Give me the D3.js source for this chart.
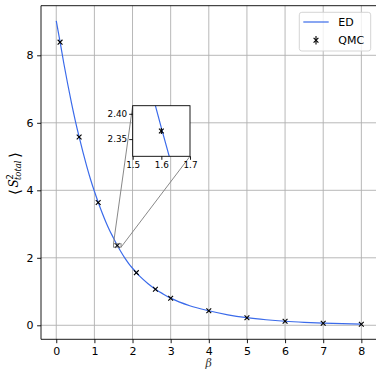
<!DOCTYPE html>
<html><head><meta charset="utf-8">
<script src="https://cdn.jsdelivr.net/npm/d3@7"></script>
<style>body{margin:0;background:#fff}svg{display:block;font-family:"DejaVu Sans",sans-serif}</style>
</head><body><svg id="c" width="376" height="372"></svg>
<script>
const edBeta = [0,0.1,0.2,0.3,0.4,0.5,0.6,0.7,0.8,0.9,1.0,1.1,1.2,1.3,1.4,1.5,1.55,1.6,1.65,1.7,1.8,1.9,2.0,2.2,2.4,2.6,2.8,3.0,3.5,4.0,4.5,5.0,5.5,6.0,6.5,7.0,7.5,8.0];
const edValues = [9.02,8.40,7.75,7.15,6.58,6.06,5.58,5.13,4.71,4.32,3.97,3.645,3.34,3.06,2.81,2.589,2.478,2.372,2.270,2.173,1.99,1.83,1.69,1.44,1.24,1.07,0.93,0.805,0.58,0.43,0.31,0.225,0.165,0.12,0.088,0.064,0.047,0.036];
const qmcBeta = [0.1,0.6,1.1,1.6,2.1,2.6,3,4,5,6,7,8];
const qmcValues = [8.39,5.58,3.64,2.366,1.56,1.07,0.80,0.43,0.225,0.12,0.06,0.03];
const qmcErr = [0.02,0.015,0.01,0.006,0.006,0.005,0.004,0.003,0.002,0.002,0.001,0.001];
const xTicks = [0,1,2,3,4,5,6,7,8];
const yTicks = [0,2,4,6,8];
const insetXTicks = [1.5,1.6,1.7];
const insetYTicks = [2.35,2.40];
const insetXDomain = [1.5,1.7];
const insetYDomain = [2.316,2.416];

const svg = d3.select("#c");
const L=41, R=376.6, T=5.7, B=339.3;
const x = d3.scaleLinear().domain([-0.4,8.4]).range([L,R]);
const y = d3.scaleLinear().domain([-0.415,9.47]).range([B,T]);
const blue = "#3b6bea";

svg.append("defs").append("clipPath").attr("id","mainclip").append("rect")
  .attr("x",L).attr("y",T).attr("width",R-L).attr("height",B-T);

// grid
const g = svg.append("g");
g.selectAll(".gx").data(xTicks).join("line").attr("x1",d=>x(d)).attr("x2",d=>x(d)).attr("y1",T).attr("y2",B)
  .attr("stroke","#b0b0b0").attr("stroke-width",0.9);
g.selectAll(".gy").data(yTicks).join("line").attr("y1",d=>y(d)).attr("y2",d=>y(d)).attr("x1",L).attr("x2",R)
  .attr("stroke","#b0b0b0").attr("stroke-width",0.9);

const plot = svg.append("g").attr("clip-path","url(#mainclip)");
const line = d3.line().x((d,i)=>x(edBeta[i])).y(d=>y(d)).curve(d3.curveMonotoneX);
plot.append("path").attr("d",line(edValues)).attr("fill","none").attr("stroke",blue).attr("stroke-width",1.2);

function xMark(gr, cx, cy, s){
  gr.append("path").attr("d",`M${cx-s},${cy-s}L${cx+s},${cy+s}M${cx-s},${cy+s}L${cx+s},${cy-s}`)
   .attr("stroke","#000").attr("stroke-width",1.1).attr("fill","none");
}
qmcBeta.forEach((b,i)=>{
  plot.append("line").attr("x1",x(b)).attr("x2",x(b)).attr("y1",y(qmcValues[i]-qmcErr[i])).attr("y2",y(qmcValues[i]+qmcErr[i]))
    .attr("stroke","#000").attr("stroke-width",1.1);
  xMark(plot, x(b), y(qmcValues[i]), 2.4);
});

// inset indicator
const ix0=x(insetXDomain[0]), ix1=x(insetXDomain[1]), iy0=y(insetYDomain[1]), iy1=y(insetYDomain[0]);
svg.append("rect").attr("x",ix0).attr("y",iy0).attr("width",ix1-ix0).attr("height",iy1-iy0)
  .attr("fill","none").attr("stroke","#7a7a7a").attr("stroke-width",0.9);

// inset geometry
const IL=132.7, IR=190, IT=105.7, IB=156.3;
svg.append("line").attr("x1",ix0).attr("y1",iy0).attr("x2",IL).attr("y2",IT).attr("stroke","#7a7a7a").attr("stroke-width",0.9);
svg.append("line").attr("x1",ix1).attr("y1",iy1).attr("x2",IR).attr("y2",IB).attr("stroke","#7a7a7a").attr("stroke-width",0.9);

// axes spines
svg.append("line").attr("x1",L).attr("x2",L).attr("y1",T).attr("y2",B).attr("stroke","#000").attr("stroke-width",0.9);
svg.append("line").attr("x1",L).attr("x2",R).attr("y1",B).attr("y2",B).attr("stroke","#000").attr("stroke-width",0.9);
svg.append("line").attr("x1",L).attr("x2",R).attr("y1",T).attr("y2",T).attr("stroke","#000").attr("stroke-width",0.9);
svg.append("line").attr("x1",R).attr("x2",R).attr("y1",T).attr("y2",B).attr("stroke","#000").attr("stroke-width",0.9);

const xAxis = d3.axisBottom(x).tickValues(xTicks).tickSize(3.9).tickPadding(3.5).tickFormat(d3.format("d"));
const gxA = svg.append("g").attr("transform",`translate(0,${B})`).call(xAxis);
const yAxis = d3.axisLeft(y).tickValues(yTicks).tickSize(3.9).tickPadding(3.5).tickFormat(d3.format("d"));
const gyA = svg.append("g").attr("transform",`translate(${L},0)`).call(yAxis);
[gxA,gyA].forEach(a=>{a.select(".domain").remove();
  a.selectAll("line").attr("stroke","#000").attr("stroke-width",0.9);
  a.selectAll("text").attr("font-family","DejaVu Sans").attr("font-size",11).attr("fill","#000");});

// labels
svg.append("text").attr("x",(L+R)/2).attr("y",367).attr("text-anchor","middle")
  .attr("font-family","DejaVu Serif").attr("font-style","italic").attr("font-size",11).attr("fill","#333").text("β");
const yl = svg.append("g").attr("transform","translate(18,172) rotate(-90)");
yl.append("text").attr("x",-23).attr("y",1.5).attr("font-size",15).attr("font-family","DejaVu Sans").attr("font-weight",200).text("⟨");
yl.append("text").attr("x",-15.5).attr("y",0).attr("font-size",12).attr("font-family","DejaVu Serif").attr("font-style","italic").text("S");
yl.append("text").attr("x",-7.5).attr("y",-5).attr("font-size",8.4).attr("font-family","DejaVu Sans").text("2");
yl.append("text").attr("x",-8).attr("y",3).attr("font-size",8.4).attr("font-family","DejaVu Serif").attr("font-style","italic").text("total");
yl.append("text").attr("x",14.5).attr("y",1.5).attr("font-size",15).attr("font-family","DejaVu Sans").attr("font-weight",200).text("⟩");

// inset
const xi = d3.scaleLinear().domain(insetXDomain).range([IL,IR]);
const yi = d3.scaleLinear().domain(insetYDomain).range([IB,IT]);
svg.append("rect").attr("x",IL).attr("y",IT).attr("width",IR-IL).attr("height",IB-IT).attr("fill","#fff");
svg.select("defs").append("clipPath").attr("id","insclip").append("rect")
  .attr("x",IL).attr("y",IT).attr("width",IR-IL).attr("height",IB-IT);
const ins = svg.append("g").attr("clip-path","url(#insclip)");
const lineI = d3.line().x((d,i)=>xi(edBeta[i])).y(d=>yi(d)).curve(d3.curveMonotoneX);
ins.append("path").attr("d",lineI(edValues)).attr("fill","none").attr("stroke",blue).attr("stroke-width",1.2);
qmcBeta.forEach((b,i)=>{
  ins.append("line").attr("x1",xi(b)).attr("x2",xi(b)).attr("y1",yi(qmcValues[i]-qmcErr[i])).attr("y2",yi(qmcValues[i]+qmcErr[i]))
    .attr("stroke","#000").attr("stroke-width",1.1);
  xMark(ins, xi(b), yi(qmcValues[i]), 2.4);
});
svg.append("rect").attr("x",IL).attr("y",IT).attr("width",IR-IL).attr("height",IB-IT).attr("fill","none").attr("stroke","#000").attr("stroke-width",0.9);
const gxi = svg.append("g").attr("transform",`translate(0,${IB})`).call(d3.axisBottom(xi).tickValues(insetXTicks).tickSize(3.5).tickPadding(2).tickFormat(d3.format(".1f")));
const gyi = svg.append("g").attr("transform",`translate(${IL},0)`).call(d3.axisLeft(yi).tickValues(insetYTicks).tickSize(3.5).tickPadding(2).tickFormat(d3.format(".2f")));
[gxi,gyi].forEach(a=>{a.select(".domain").remove();
  a.selectAll("line").attr("stroke","#000").attr("stroke-width",0.9);
  a.selectAll("text").attr("font-family","DejaVu Sans").attr("font-size",8.8).attr("fill","#000");});

// legend
const lg = svg.append("g");
lg.append("rect").attr("x",299.3).attr("y",12.3).attr("width",71.4).attr("height",38.7).attr("rx",2.5)
  .attr("fill","#fff").attr("fill-opacity",0.8).attr("stroke","#d0d0d0").attr("stroke-width",0.9);
lg.append("line").attr("x1",303.3).attr("x2",328.7).attr("y1",22).attr("y2",22).attr("stroke",blue).attr("stroke-width",1.2);
lg.append("text").attr("x",338.3).attr("y",26).attr("font-size",11).attr("fill","#000").text("ED");
lg.append("line").attr("x1",316).attr("x2",316).attr("y1",36).attr("y2",44.5).attr("stroke","#000").attr("stroke-width",1.1);
xMark(lg,316,40.2,2.4);
lg.append("text").attr("x",338.3).attr("y",44.2).attr("font-size",11).attr("fill","#000").text("QMC");
</script></body></html>
